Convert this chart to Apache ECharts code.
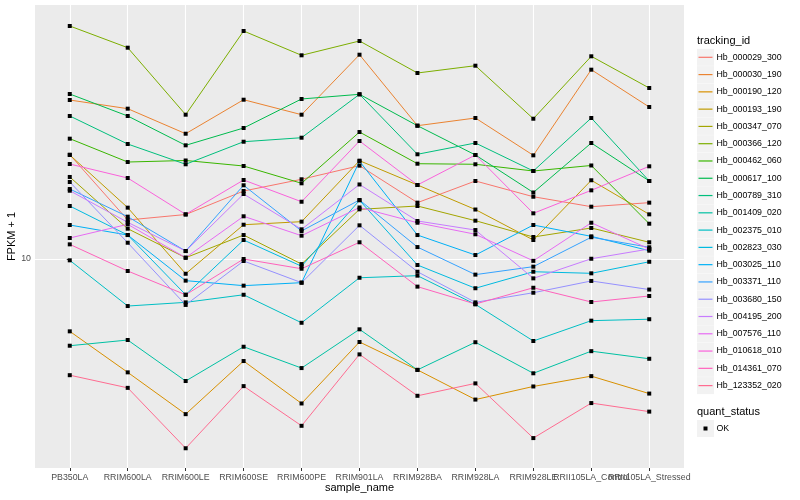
<!DOCTYPE html>
<html><head><meta charset="utf-8">
<script src="https://cdn.jsdelivr.net/npm/echarts@6/dist/echarts.min.js"></script>
<style>html,body{margin:0;padding:0;background:#fff}#c{width:800px;height:500px}</style>
</head><body><div id="c"></div>
<script>
const categories = ['PB350LA','RRIM600LA','RRIM600LE','RRIM600SE','RRIM600PE','RRIM901LA','RRIM928BA','RRIM928LA','RRIM928LE','RRII105LA_Control','RRII105LA_Stressed'];
const trackingIds = ['Hb_000029_300','Hb_000030_190','Hb_000190_120','Hb_000193_190','Hb_000347_070','Hb_000366_120','Hb_000462_060','Hb_000617_100','Hb_000789_310','Hb_001409_020','Hb_002375_010','Hb_002823_030','Hb_003025_110','Hb_003371_110','Hb_003680_150','Hb_004195_200','Hb_007576_110','Hb_010618_010','Hb_014361_070','Hb_123352_020'];
const colors = ['#F8766D','#EA8331','#D89000','#C09B00','#A3A500','#7CAE00','#39B600','#00BB4E','#00BF7D','#00C1A3','#00BFC4','#00BAE0','#00B0F6','#35A2FF','#9590FF','#C77CFF','#E76BF3','#FA62DB','#FF62BC','#FF6C91'];
const quantStatus = ['OK'];
const yTickValues = [10];

const hb000029_300 = [22.27, 13.49, 14.07, 16.85, 18.44, 20.47, 15.41, 18.20, 16.13, 14.94, 15.41];
const hb000030_190 = [33.88, 31.70, 26.16, 33.96, 30.27, 47.97, 27.82, 29.51, 22.16, 42.76, 32.11];
const hb000190_120 = [5.74, 4.19, 3.04, 4.57, 3.30, 5.29, 4.27, 3.40, 3.76, 4.07, 3.56];
const hb000193_190 = [22.22, 14.83, 8.93, 13.01, 13.32, 21.27, 17.65, 14.62, 11.57, 18.30, 14.09];
const hb000347_070 = [18.77, 12.62, 10.10, 12.02, 9.62, 14.64, 15.02, 13.42, 11.84, 12.69, 11.37];
const hb000366_120 = [59.80, 50.62, 30.27, 57.54, 47.75, 53.30, 41.69, 44.09, 29.35, 47.39, 37.15];
const hb000462_060 = [25.18, 21.05, 21.30, 20.42, 17.88, 26.50, 20.78, 20.69, 19.65, 20.50, 13.11];
const hb000617_100 = [35.48, 29.97, 23.93, 27.33, 34.15, 35.40, 27.82, 22.22, 16.66, 24.36, 18.20];
const hb000789_310 = [29.97, 24.17, 20.69, 24.60, 25.37, 35.40, 22.34, 24.36, 19.65, 29.51, 18.20];
const hb001409_020 = [5.14, 5.37, 3.92, 5.10, 4.33, 5.83, 4.27, 5.28, 4.16, 4.93, 4.65];
const hb002375_010 = [9.90, 6.97, 7.17, 7.60, 6.13, 8.66, 8.80, 7.06, 5.33, 6.23, 6.30];
const hb002823_030 = [15.02, 12.02, 7.60, 11.57, 9.46, 15.69, 9.55, 7.99, 9.07, 8.96, 9.79];
const hb003025_110 = [12.98, 12.02, 8.47, 8.15, 8.34, 21.17, 12.02, 10.31, 12.98, 11.90, 10.66];
const hb003371_110 = [17.11, 13.84, 10.63, 17.61, 12.40, 15.73, 10.96, 8.87, 9.43, 11.82, 10.94];
const hb003680_150 = [18.06, 11.33, 7.03, 9.85, 8.34, 12.95, 9.07, 7.17, 7.72, 8.45, 7.91];
const hb004195_200 = [16.89, 13.25, 10.63, 16.47, 12.56, 17.72, 13.39, 12.49, 8.62, 10.02, 10.80];
const hb007576_110 = [11.75, 13.05, 10.10, 13.88, 11.96, 14.85, 13.21, 12.09, 9.86, 13.21, 10.80];
const hb010618_010 = [20.73, 18.62, 14.09, 18.34, 15.52, 24.74, 17.65, 22.22, 14.20, 16.94, 20.37];
const hb014361_070 = [11.19, 9.12, 7.60, 10.00, 9.28, 11.37, 8.09, 7.08, 8.02, 7.19, 7.53];
const hb123352_020 = [4.10, 3.72, 2.34, 3.77, 2.78, 4.81, 3.50, 3.85, 2.53, 3.31, 3.10];

const seriesValues = [hb000029_300, hb000030_190, hb000190_120, hb000193_190, hb000347_070, hb000366_120, hb000462_060, hb000617_100, hb000789_310, hb001409_020, hb002375_010, hb002823_030, hb003025_110, hb003371_110, hb003680_150, hb004195_200, hb007576_110, hb010618_010, hb014361_070, hb123352_020];

const FONT = '"Liberation Sans", Arial, Helvetica, sans-serif';
const PANEL = {left: 35, top: 5, right: 684, bottom: 468};

const legendEls = [];
legendEls.push({type:'text', x: 697, y: 41, silent: true,
  style: {text: 'tracking_id', font: '11px ' + FONT, fill: '#000', verticalAlign: 'middle', align: 'left'}});
trackingIds.forEach((id, i) => {
  const cy = 57.3 + i * 17.28;
  legendEls.push({type:'rect', silent: true, shape: {x: 697, y: cy - 8.5, width: 17, height: 17}, style: {fill: '#F2F2F2'}});
  legendEls.push({type:'line', silent: true, shape: {x1: 698.5, y1: cy, x2: 712.5, y2: cy}, style: {stroke: colors[i], lineWidth: 1.2}});
  legendEls.push({type:'text', silent: true, x: 716.5, y: cy,
    style: {text: id, font: '8.8px ' + FONT, fill: '#000', verticalAlign: 'middle', align: 'left'}});
});
legendEls.push({type:'text', x: 697, y: 412, silent: true,
  style: {text: 'quant_status', font: '11px ' + FONT, fill: '#000', verticalAlign: 'middle', align: 'left'}});
quantStatus.forEach((q, i) => {
  const cy = 428.5 + i * 17.28;
  legendEls.push({type:'rect', silent: true, shape: {x: 697, y: cy - 8.5, width: 17, height: 17}, style: {fill: '#F2F2F2'}});
  legendEls.push({type:'rect', silent: true, shape: {x: 703.5, y: cy - 2, width: 4, height: 4}, style: {fill: '#000'}});
  legendEls.push({type:'text', silent: true, x: 716.5, y: cy,
    style: {text: q, font: '8.8px ' + FONT, fill: '#000', verticalAlign: 'middle', align: 'left'}});
});

const chart = echarts.init(document.getElementById('c'), null, {renderer: 'canvas'});
const catIdx = categories.map((c, i) => i);
const evenIdx = catIdx.filter(i => i % 2 === 0);
const oddIdx = catIdx.filter(i => i % 2 === 1);
const labelStyle = {fontSize: 8.8, color: '#4D4D4D', margin: 5, fontFamily: FONT, hideOverlap: false,
  formatter: v => categories[Math.round(v)]};
chart.setOption({
  animation: false,
  backgroundColor: '#FFFFFF',
  textStyle: {fontFamily: FONT},
  grid: {left: PANEL.left, top: PANEL.top, width: PANEL.right - PANEL.left, height: PANEL.bottom - PANEL.top, show: false, containLabel: false, outerBoundsMode: 'none'},
  graphic: [
    {type: 'rect', z: -10, silent: true, shape: {x: PANEL.left, y: PANEL.top, width: PANEL.right - PANEL.left, height: PANEL.bottom - PANEL.top}, style: {fill: '#EBEBEB'}}
  ].concat(legendEls),
  xAxis: [{
    type: 'value', min: -0.6, max: 10.6, position: 'bottom', offset: 0,
    name: 'sample_name', nameLocation: 'middle', nameGap: 14, nameMoveOverlap: false,
    nameTextStyle: {fontSize: 11, color: '#000', fontFamily: FONT},
    axisLine: {show: false},
    axisTick: {show: true, length: 3, customValues: catIdx, lineStyle: {color: '#333333', width: 1}},
    axisLabel: Object.assign({show: true, customValues: evenIdx}, labelStyle),
    splitLine: {show: true, lineStyle: {color: '#FFFFFF', width: 1.1}}
  }, {
    type: 'value', min: -0.6, max: 10.6, position: 'bottom', offset: 0,
    axisLine: {show: false},
    axisTick: {show: false},
    axisLabel: Object.assign({show: true, customValues: oddIdx}, labelStyle),
    splitLine: {show: false}
  }],
  yAxis: {
    type: 'log', logBase: 10, min: 2.011, max: 70.25,
    name: 'FPKM + 1', nameLocation: 'middle', nameGap: 18, nameRotate: 90, nameMoveOverlap: false,
    nameTextStyle: {fontSize: 11, color: '#000', fontFamily: FONT},
    axisLine: {show: false},
    axisTick: {show: true, length: 3, customValues: yTickValues, lineStyle: {color: '#333333', width: 1}},
    axisLabel: {show: true, customValues: yTickValues, fontSize: 8.8, color: '#4D4D4D', margin: 4, fontFamily: FONT},
    splitLine: {show: true, lineStyle: {color: '#FFFFFF', width: 1.1}},
    minorSplitLine: {show: false}
  },
  series: seriesValues.map((vals, i) => ({
    name: trackingIds[i], type: 'line', z: 2, silent: true, xAxisIndex: 0,
    data: vals.map((v, j) => [j, v]),
    symbol: 'rect', symbolSize: 4,
    itemStyle: {color: '#000000'},
    lineStyle: {color: colors[i], width: 1},
    emphasis: {disabled: true}
  }))
});
</script>
</body></html>
